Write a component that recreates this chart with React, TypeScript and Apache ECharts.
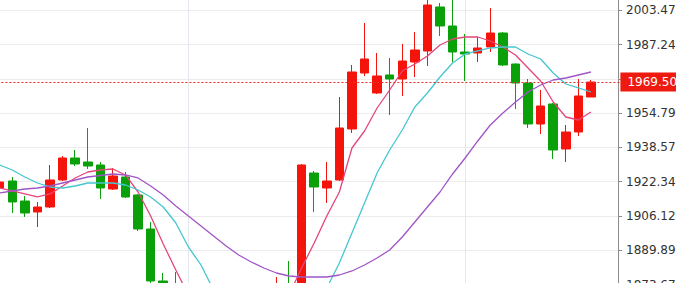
import React, { useEffect, useRef } from "react";
import * as echarts from "echarts";

// Category slots (48 candles + 2 empty slots on the right)
const categories = [
  "1", "2", "3", "4", "5", "6", "7", "8", "9", "10",
  "11", "12", "13", "14", "15", "16", "17", "18", "19", "20",
  "21", "22", "23", "24", "25", "26", "27", "28", "29", "30",
  "31", "32", "33", "34", "35", "36", "37", "38", "39", "40",
  "41", "42", "43", "44", "45", "46", "47", "48", "49", "50",
];

const opens = [
  1919.38, 1922.69, 1913.22, 1908.02, 1910.38, 1923.16, 1933.57, 1931.68, 1930.26, 1918.90,
  1924.58, 1916.06, 1899.97, 1875.37, 1871.11, 1864.01, 1852.18, 1837.98, 1845.08, 1835.62,
  1849.81, 1856.91, 1864.01, 1870.16, 1867.32, 1926.47, 1919.38, 1923.16, 1947.30, 1973.80,
  1964.33, 1972.85, 1970.96, 1979.00, 1984.21, 2005.03, 1996.04, 1983.73, 1983.26, 1986.10,
  1992.72, 1978.05, 1969.06, 1949.66, 1959.13, 1937.83, 1945.88, 1962.44,
];
const closes = [
  1922.21, 1912.75, 1907.54, 1910.38, 1923.16, 1933.57, 1930.73, 1929.79, 1919.38, 1925.05,
  1915.12, 1899.97, 1875.37, 1866.37, 1864.01, 1852.18, 1837.98, 1845.08, 1835.62, 1849.81,
  1856.91, 1864.01, 1870.16, 1867.32, 1930.26, 1919.85, 1922.69, 1947.77, 1974.27, 1980.42,
  1972.38, 1970.96, 1979.47, 1984.68, 2005.97, 1996.04, 1983.73, 1982.79, 1985.63, 1992.72,
  1977.58, 1969.06, 1949.66, 1958.18, 1937.36, 1945.88, 1962.91, 1969.50,
];
const lows = [
  1918.90, 1907.54, 1905.65, 1900.92, 1909.91, 1922.69, 1929.79, 1928.37, 1914.17, 1918.43,
  1914.64, 1899.03, 1873.95, 1864.01, 1861.64, 1849.81, 1833.25, 1834.20, 1830.88, 1834.20,
  1847.45, 1854.54, 1861.64, 1864.95, 1866.37, 1908.02, 1912.28, 1922.69, 1945.40, 1972.38,
  1963.86, 1953.92, 1962.91, 1971.90, 1977.11, 1991.30, 1979.00, 1970.01, 1979.00, 1983.73,
  1977.11, 1956.76, 1947.77, 1944.93, 1933.10, 1931.68, 1943.98, 1962.44,
];
const highs = [
  1922.69, 1924.58, 1915.59, 1912.75, 1930.26, 1934.52, 1937.36, 1947.77, 1931.68, 1928.84,
  1926.95, 1916.54, 1903.29, 1879.15, 1879.62, 1866.37, 1854.54, 1847.45, 1847.45, 1852.18,
  1860.70, 1868.74, 1877.26, 1884.83, 1930.73, 1927.42, 1931.68, 1962.44, 1977.58, 1997.46,
  1983.26, 1980.89, 1987.52, 1993.20, 2009.29, 2006.92, 2009.29, 1992.25, 1990.83, 2004.55,
  1993.20, 1978.30, 1970.96, 1965.75, 1959.60, 1949.19, 1970.96, 1970.48,
];

const maFast = [
  1919.37, 1917.96, 1916.54, 1915.12, 1916.54, 1920.32, 1924.11, 1926.95, 1927.89, 1928.37,
  1925.53, 1917.48, 1906.12, 1892.87, 1880.57, 1868.74, 1859.28, 1852.18, 1847.45, 1845.08,
  1848.39, 1854.54, 1861.64, 1868.74, 1881.52, 1893.35, 1906.12, 1917.48, 1938.30, 1946.35,
  1957.23, 1965.75, 1974.74, 1978.05, 1981.84, 1987.05, 1989.88, 1990.83, 1990.83, 1988.94,
  1986.10, 1982.31, 1976.16, 1970.01, 1960.07, 1952.97, 1951.55, 1955.34,
];
const maMid = [
  1930.26, 1927.89, 1924.58, 1921.74, 1919.85, 1919.37, 1920.32, 1921.74, 1921.74, 1921.74,
  1920.79, 1918.43, 1915.12, 1910.38, 1902.81, 1891.46, 1882.94, 1871.11, 1861.64, 1854.54,
  1850.76, 1849.81, 1851.23, 1854.54, 1859.28, 1866.37, 1872.05, 1883.88, 1898.08, 1912.28,
  1926.47, 1937.36, 1946.82, 1957.71, 1964.33, 1971.90, 1978.53, 1982.79, 1984.21, 1985.63,
  1986.10, 1986.10, 1982.79, 1980.42, 1973.80, 1968.59, 1966.70, 1964.80,
];
const maSlow = [
  1917.01, 1917.96, 1918.90, 1919.37, 1920.32, 1921.74, 1923.16, 1924.58, 1925.29, 1926.00,
  1925.53, 1924.11, 1920.32, 1916.06, 1910.86, 1906.12, 1901.39, 1896.66, 1891.93, 1887.67,
  1884.36, 1881.52, 1879.15, 1877.73, 1877.26, 1877.26, 1877.26, 1878.20, 1880.10, 1882.94,
  1886.25, 1890.04, 1896.19, 1903.29, 1910.38, 1917.48, 1926.00, 1933.57, 1941.62, 1949.19,
  1954.87, 1960.07, 1964.80, 1968.12, 1970.48, 1971.43, 1972.85, 1974.27,
];

// Axis ticks (grid lines) and the labels shown (1971.02 is hidden by the price tag)
const yTicks = [1873.67, 1889.89, 1906.12, 1922.34, 1938.57, 1954.79, 1971.02, 1987.24, 2003.47];
const yLabels = [1873.67, 1889.89, 1906.12, 1922.34, 1938.57, 1954.79, 1987.24, 2003.47];
const lastPrice = 1969.5;
const periodMarks = ["16", "38"];

const UP = "#f5140c";
const DOWN = "#0aa00a";

export default function App() {
  const ref = useRef<HTMLDivElement>(null);
  useEffect(() => {
    if (!ref.current) return;
    const chart = echarts.init(ref.current, null, { renderer: "svg" });
    const candleData = opens.map((o, i) => [o, closes[i], lows[i], highs[i]]);
    chart.setOption({
      animation: false,
      backgroundColor: "#ffffff",
      grid: {
        left: -6.59,
        top: 0,
        width: 629,
        height: 300,
        containLabel: false,
        outerBoundsMode: "none",
      },
      xAxis: {
        type: "category",
        data: categories,
        boundaryGap: true,
        show: false,
      },
      yAxis: {
        type: "value",
        position: "right",
        offset: -4.4,
        min: 1866.37,
        max: 2008.34,
        scale: true,
        axisLine: { show: true, lineStyle: { color: "#8c8c8c", width: 1 } },
        axisTick: {
          show: true,
          length: 4,
          customValues: yTicks,
          lineStyle: { color: "#8c8c8c" },
        },
        axisLabel: {
          customValues: yLabels,
          formatter: (v: number) => v.toFixed(2),
          color: "#333333",
          fontFamily: "DejaVu Sans",
          fontSize: 12,
          margin: 8,
        },
        splitLine: { show: true, lineStyle: { color: "#ececec", width: 1 } },
      },
      series: [
        {
          type: "line",
          data: categories.map(() => "-"),
          z: 1,
          silent: true,
          showSymbol: false,
          markLine: {
            silent: true,
            z: 1,
            symbol: "none",
            label: { show: false },
            lineStyle: { color: "#e2e6ed", type: "solid", width: 1 },
            data: periodMarks.map((c) => ({ xAxis: c })),
          },
        },
        {
          type: "candlestick",
          data: candleData,
          barWidth: 9,
          itemStyle: {
            color: UP,
            color0: DOWN,
            borderColor: UP,
            borderColor0: DOWN,
            borderWidth: 1,
          },
          markLine: {
            silent: true,
            symbol: "none",
            data: [
              {
                yAxis: lastPrice,
                lineStyle: { color: "#e8302a", type: [2, 2], width: 1 },
                label: {
                  show: true,
                  position: "end",
                  distance: -2,
                  formatter: () => lastPrice.toFixed(2),
                  backgroundColor: "#ee1a10",
                  color: "#ffffff",
                  fontFamily: "DejaVu Sans",
                  fontSize: 12,
                  lineHeight: 14,
                  padding: [3, 10, 2, 7],
                },
              },
            ],
          },
        },
        {
          type: "line",
          data: maFast,
          showSymbol: false,
          symbol: "none",
          lineStyle: { color: "#e5467a", width: 1.3 },
        },
        {
          type: "line",
          data: maMid,
          showSymbol: false,
          symbol: "none",
          lineStyle: { color: "#45c6d0", width: 1.3 },
        },
        {
          type: "line",
          data: maSlow,
          showSymbol: false,
          symbol: "none",
          lineStyle: { color: "#a055c6", width: 1.3 },
        },
      ],
    });
    return () => chart.dispose();
  }, []);
  return (
    <div
      ref={ref}
      style={{ position: "fixed", left: 0, top: 0, width: 676, height: 300 }}
    />
  );
}
